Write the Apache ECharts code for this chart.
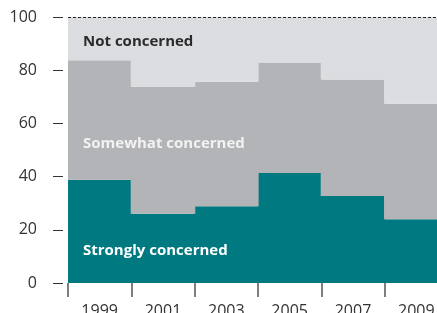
<!DOCTYPE html>
<head>
    <meta charset="utf-8">
    <script src="https://cdn.jsdelivr.net/npm/echarts@6/dist/echarts.min.js"></script>
    <title>Concern</title>
</head>
<body style="margin:0">
    <div id="main" style="width:437px;height:313px"></div>
    <script type="text/javascript">
        var years = ['1999', '2001', '2003', '2005', '2007', '2009'];
        var strongly = [38.8, 26.0, 28.9, 41.4, 32.7, 24.0];
        var somewhat = [44.9, 47.8, 46.8, 41.5, 43.8, 43.4];
        var notConcerned = [16.3, 26.2, 24.3, 17.1, 23.5, 32.6];
        var yTicks = [0, 20, 40, 60, 80, 100];

        var font = '"Open Sans", "Noto Sans", sans-serif';
        var myChart = echarts.init(document.getElementById('main'));

        function bar(name, data, color) {
            return {
                name: name,
                type: 'bar',
                stack: 'all',
                data: data,
                barWidth: '102%',
                itemStyle: { color: color },
                silent: true
            };
        }

        function label(text, x, y, color) {
            return {
                type: 'text', left: x, top: y, z: 100,
                style: { text: text, fill: color, fontSize: 15, fontWeight: 'bold', fontFamily: font }
            };
        }

        var option = {
            animation: false,
            grid: { left: 68, right: -11, top: 17, bottom: 30, outerBoundsMode: 'none' },
            xAxis: {
                type: 'category',
                data: years,
                axisLine: { show: false },
                splitLine: { show: false },
                axisTick: { show: true, length: 14, lineStyle: { color: '#555', width: 1.5 } },
                axisLabel: { margin: 20, color: '#333', fontSize: 16, fontFamily: font }
            },
            yAxis: {
                type: 'value',
                min: yTicks[0],
                max: yTicks[yTicks.length - 1],
                interval: 20,
                offset: 5,
                axisLine: { show: false },
                axisTick: { show: true, length: 10, lineStyle: { color: '#333' } },
                axisLabel: { margin: 26, color: '#333', fontSize: 16, fontFamily: font },
                splitLine: { show: false }
            },
            series: [
                bar('Strongly concerned', strongly, '#007a80'),
                bar('Somewhat concerned', somewhat, '#b3b4b7'),
                Object.assign(bar('Not concerned', notConcerned, '#dcdde0'), {
                    markLine: {
                        silent: true,
                        symbol: 'none',
                        label: { show: false },
                        lineStyle: { color: '#222', type: [3, 2], width: 1 },
                        data: [{ yAxis: 100 }]
                    }
                })
            ],
            graphic: [
                label('Not concerned', 83, 34, '#2b2b2b'),
                label('Somewhat concerned', 83, 136, '#f2f2f2'),
                label('Strongly concerned', 83, 243, '#ffffff')
            ]
        };

        myChart.setOption(option);
    </script>
</body>
